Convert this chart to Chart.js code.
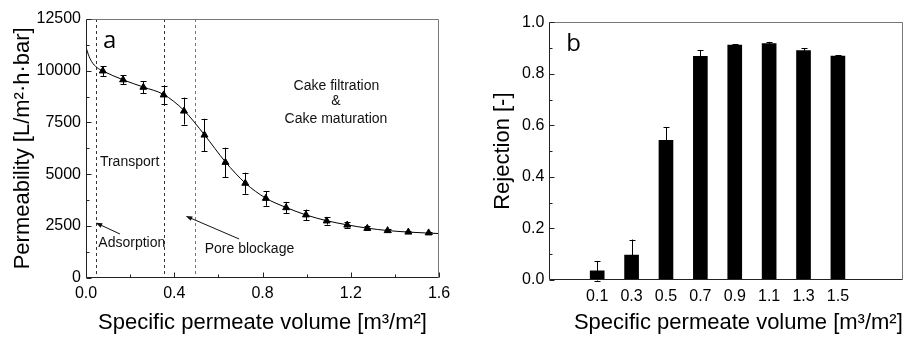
<!DOCTYPE html>
<html lang="en">
<head>
<meta charset="UTF-8">
<title>Permeability and rejection</title>
<script src="https://cdn.jsdelivr.net/npm/chart.js"></script>
<style>
    body { margin: 0; background: #fff; }
    #wrap { position: relative; width: 904px; height: 338px; }
    canvas { position: absolute; top: 0; }
    #chartA { left: 0; }
    #chartB { left: 460px; }
</style>
</head>
<body>
<div id="wrap">
    <canvas id="chartA" width="460" height="338"></canvas>
    <canvas id="chartB" width="444" height="338"></canvas>
</div>
<script>
// ---- panel a: permeability vs specific permeate volume ----
const volume = [0.076, 0.168, 0.26, 0.352, 0.444, 0.537, 0.632, 0.722, 0.815, 0.907, 0.997, 1.091, 1.184, 1.275, 1.367, 1.461, 1.553];
const permeability = [9990, 9560, 9200, 8830, 8050, 6890, 5570, 4560, 3830, 3380, 3030, 2740, 2540, 2380, 2270, 2200, 2160];
const permeabilityErr = [240, 220, 290, 430, 650, 790, 710, 510, 360, 280, 260, 180, 130, 100, 80, 60, 60];
// fitted curve
const fitVolume = [0, 0.01, 0.025, 0.05, 0.076, 0.168, 0.26, 0.352, 0.444, 0.537, 0.632, 0.722, 0.815, 0.907, 0.997, 1.091, 1.184, 1.275, 1.367, 1.461, 1.553, 1.6];
const fitPermeability = [11150, 10800, 10450, 10150, 9990, 9560, 9210, 8850, 8080, 6900, 5590, 4570, 3840, 3390, 3030, 2750, 2550, 2390, 2275, 2200, 2150, 2130];
const phaseBounds = [0.045, 0.352, 0.494];
const xTicksA = [0, 0.4, 0.8, 1.2, 1.6];
const xMinorA = [0.2, 0.6, 1.0, 1.4];
const yTicksA = [0, 2500, 5000, 7500, 10000, 12500];
const yMinorA = [1250, 3750, 6250, 8750, 11250];

// ---- panel b: rejection ----
const rejVolume = [0.1, 0.3, 0.5, 0.7, 0.9, 1.1, 1.3, 1.5];
const rejection = [0.036, 0.097, 0.542, 0.868, 0.912, 0.917, 0.890, 0.869];
const rejectionErr = [0.038, 0.06, 0.052, 0.023, 0.003, 0.007, 0.01, 0.003];
const yTicksB = [0, 0.2, 0.4, 0.6, 0.8, 1.0];
const yMinorB = [0.1, 0.3, 0.5, 0.7, 0.9];

const FONT = "'Liberation Sans', Arial, sans-serif";

// box around plot area + inward ticks
const framePlugin = {
    id: 'frame',
    afterDraw(chart, args, opts) {
        const { ctx, chartArea: a, scales } = chart;
        const L = Math.round(a.left) + 0.5, R = Math.round(a.right) - 0.5;
        const T = Math.round(a.top) + 0.5, B = Math.round(a.bottom) - 0.5;
        ctx.save();
        ctx.lineWidth = 1;
        ctx.strokeStyle = '#777';
        ctx.beginPath();
        ctx.moveTo(L, T); ctx.lineTo(R, T); ctx.lineTo(R, B);
        ctx.stroke();
        ctx.strokeStyle = '#222';
        ctx.beginPath();
        ctx.moveTo(L, T); ctx.lineTo(L, B); ctx.lineTo(R, B);
        (opts.xMajor || []).forEach(v => { const x = Math.round(scales.x.getPixelForValue(v)) + 0.5; ctx.moveTo(x, B); ctx.lineTo(x, B - 5); });
        (opts.xMinor || []).forEach(v => { const x = Math.round(scales.x.getPixelForValue(v)) + 0.5; ctx.moveTo(x, B); ctx.lineTo(x, B - 3); });
        (opts.yMajor || []).forEach(v => { const y = Math.round(scales.y.getPixelForValue(v)) + 0.5; ctx.moveTo(L, y); ctx.lineTo(L + 5, y); });
        (opts.yMinor || []).forEach(v => { const y = Math.round(scales.y.getPixelForValue(v)) + 0.5; ctx.moveTo(L, y); ctx.lineTo(L + 3, y); });
        ctx.stroke();
        if (opts.letter) {
            ctx.fillStyle = '#000';
            ctx.font = "24px 'Open Sans', sans-serif";
            ctx.textBaseline = 'alphabetic';
            ctx.fillText(opts.letter, a.left + 17, a.top + 29);
        }
        ctx.restore();
    }
};

// vertical error bars for datasets carrying an "errors" array
const errorBarPlugin = {
    id: 'errorBars',
    afterDatasetsDraw(chart) {
        const { ctx } = chart;
        const ys = chart.scales.y;
        ctx.save();
        ctx.strokeStyle = '#000';
        ctx.lineWidth = 1;
        chart.data.datasets.forEach((ds, i) => {
            if (!ds.errors) return;
            const meta = chart.getDatasetMeta(i);
            meta.data.forEach((el, j) => {
                const v = ds.data[j].y, e = ds.errors[j];
                const x = Math.round(el.x) + 0.5;
                const y1 = ys.getPixelForValue(v + e), y2 = ys.getPixelForValue(v - e);
                ctx.beginPath();
                ctx.moveTo(x, y1); ctx.lineTo(x, y2);
                ctx.moveTo(x - 3, Math.round(y1) + 0.5); ctx.lineTo(x + 3, Math.round(y1) + 0.5);
                ctx.moveTo(x - 3, Math.round(y2) + 0.5); ctx.lineTo(x + 3, Math.round(y2) + 0.5);
                ctx.stroke();
            });
        });
        ctx.restore();
    }
};

// phase boundaries, labels and arrows on panel a
const phaseNotes = [
    { text: 'Transport', x: 0.063, y: 5409, align: 'left' },
    { text: 'Adsorption', x: 0.056, y: 1465, align: 'left' },
    { text: 'Pore blockage', x: 0.538, y: 1175, align: 'left' },
    { text: 'Cake filtration', x: 1.135, y: 9068, align: 'center' },
    { text: '&', x: 1.133, y: 8343, align: 'center' },
    { text: 'Cake maturation', x: 1.133, y: 7458, align: 'center' }
];
const phaseArrows = [
    { from: [0.154, 2107], to: [0.044, 2654] },
    { from: [0.694, 1866], to: [0.452, 2977] }
];
const phasePlugin = {
    id: 'phases',
    beforeDatasetsDraw(chart) {
        const { ctx, chartArea: a, scales: { x: xs } } = chart;
        ctx.save();
        ctx.lineWidth = 1;
        ctx.setLineDash([3, 3]);
        phaseBounds.forEach((v, i) => {
            const x = Math.round(xs.getPixelForValue(v)) + 0.5;
            ctx.strokeStyle = i === 2 ? '#777' : '#333';
            ctx.beginPath();
            ctx.moveTo(x, a.top); ctx.lineTo(x, a.bottom);
            ctx.stroke();
        });
        ctx.restore();
    },
    afterDatasetsDraw(chart) {
        const { ctx, scales: { x: xs, y: ys } } = chart;
        ctx.save();
        ctx.fillStyle = '#111';
        ctx.font = '14px ' + FONT;
        ctx.textBaseline = 'alphabetic';
        phaseNotes.forEach(n => {
            ctx.textAlign = n.align;
            ctx.fillText(n.text, xs.getPixelForValue(n.x), ys.getPixelForValue(n.y));
        });
        ctx.strokeStyle = '#111';
        ctx.lineWidth = 1;
        phaseArrows.forEach(ar => {
            const x1 = xs.getPixelForValue(ar.from[0]), y1 = ys.getPixelForValue(ar.from[1]);
            const x2 = xs.getPixelForValue(ar.to[0]), y2 = ys.getPixelForValue(ar.to[1]);
            const ang = Math.atan2(y2 - y1, x2 - x1);
            ctx.beginPath();
            ctx.moveTo(x1, y1);
            ctx.lineTo(x2 - 5 * Math.cos(ang), y2 - 5 * Math.sin(ang));
            ctx.stroke();
            ctx.beginPath();
            ctx.moveTo(x2, y2);
            ctx.lineTo(x2 - 7 * Math.cos(ang - 0.35), y2 - 7 * Math.sin(ang - 0.35));
            ctx.lineTo(x2 - 7 * Math.cos(ang + 0.35), y2 - 7 * Math.sin(ang + 0.35));
            ctx.closePath();
            ctx.fill();
        });
        ctx.restore();
    }
};

const tickFont = { family: FONT, size: 16 };
const titleFont = { family: FONT, size: 22 };

new Chart(document.getElementById('chartA'), {
    type: 'scatter',
    data: {
        datasets: [
            {
                label: 'Permeability',
                data: volume.map((v, i) => ({ x: v, y: permeability[i] })),
                errors: permeabilityErr,
                pointStyle: 'triangle',
                pointRadius: 4,
                backgroundColor: '#000',
                borderColor: '#000',
                borderWidth: 1,
                showLine: false
            },
            {
                label: 'Fit',
                data: fitVolume.map((v, i) => ({ x: v, y: fitPermeability[i] })),
                showLine: true,
                pointRadius: 0,
                borderColor: '#000',
                borderWidth: 1,
                cubicInterpolationMode: 'monotone'
            }
        ]
    },
    options: {
        responsive: false,
        animation: false,
        layout: { padding: { top: 19, right: 21, left: 0, bottom: 0 } },
        plugins: {
            legend: { display: false },
            tooltip: { enabled: false },
            frame: { xMajor: xTicksA, xMinor: xMinorA, yMajor: yTicksA, yMinor: yMinorA, letter: 'a' }
        },
        scales: {
            x: {
                type: 'linear', min: 0, max: 1.6,
                afterBuildTicks: s => { s.ticks = xTicksA.map(v => ({ value: v })); },
                afterFit: s => { s.height = 60.4; },
                grid: { display: false, drawTicks: false },
                border: { display: false },
                ticks: { font: tickFont, color: '#000', padding: 6, maxRotation: 0, autoSkip: false, callback: v => v.toFixed(1) },
                title: { display: true, text: 'Specific permeate volume [m³/m²]', font: titleFont, color: '#000', padding: { top: 0, bottom: 2 } }
            },
            y: {
                min: 0, max: 12500,
                afterBuildTicks: s => { s.ticks = yTicksA.map(v => ({ value: v })); },
                afterFit: s => { s.width = 86; },
                grid: { display: false, drawTicks: false },
                border: { display: false },
                ticks: { font: tickFont, color: '#000', padding: 5, callback: v => String(v) },
                title: { display: true, text: 'Permeability [L/m²·h·bar]', font: titleFont, color: '#000', padding: { top: 9.5, bottom: 0 } }
            }
        }
    },
    plugins: [framePlugin, errorBarPlugin, phasePlugin]
});

new Chart(document.getElementById('chartB'), {
    type: 'bar',
    data: {
        datasets: [{
            label: 'Rejection',
            data: rejVolume.map((v, i) => ({ x: v, y: rejection[i] })),
            errors: rejectionErr,
            backgroundColor: '#000',
            barThickness: 14
        }]
    },
    options: {
        responsive: false,
        animation: false,
        layout: { padding: { top: 22.3, right: 1, left: 0, bottom: 0 } },
        plugins: {
            legend: { display: false },
            tooltip: { enabled: false },
            frame: { yMajor: yTicksB, yMinor: yMinorB, letter: 'b' }
        },
        scales: {
            x: {
                type: 'linear', min: -0.05, max: 1.75,
                afterBuildTicks: s => { s.ticks = rejVolume.map(v => ({ value: v })); },
                afterFit: s => { s.height = 58; },
                grid: { display: false, drawTicks: false },
                border: { display: false },
                ticks: { font: tickFont, color: '#000', padding: 6.5, maxRotation: 0, autoSkip: false, callback: v => v.toFixed(1) },
                // leading nbsp's push the title a little right, as in the original
                title: { display: true, text: '\u00a0\u00a0\u00a0\u00a0Specific permeate volume [m³/m²]', font: titleFont, color: '#000', padding: { top: 0, bottom: 2 } }
            },
            y: {
                min: 0, max: 1.0,
                afterBuildTicks: s => { s.ticks = yTicksB.map(v => ({ value: v })); },
                afterFit: s => { s.width = 89.3; },
                grid: { display: false, drawTicks: false },
                border: { display: false },
                ticks: { font: tickFont, color: '#000', padding: 5, callback: v => v.toFixed(1) },
                title: { display: true, text: 'Rejection [-]', font: titleFont, color: '#000', padding: { top: 30, bottom: 0 } }
            }
        }
    },
    plugins: [framePlugin, errorBarPlugin]
});
</script>
</body>
</html>
